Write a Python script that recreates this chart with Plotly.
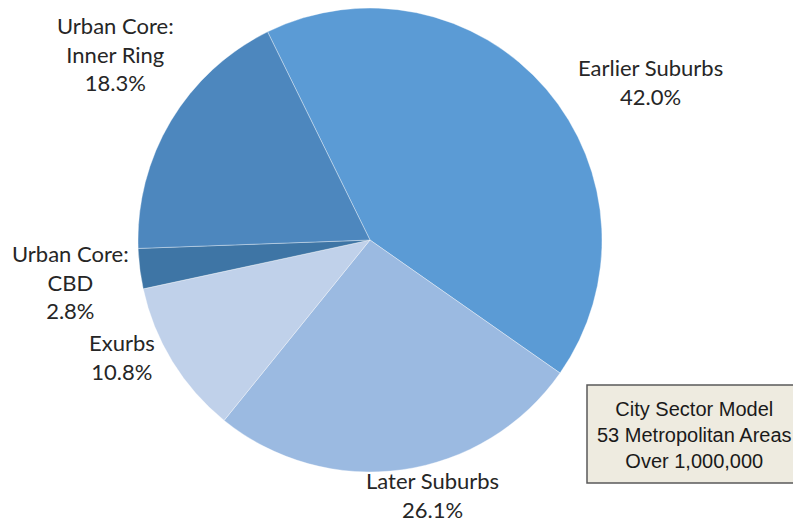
import plotly.graph_objects as go

categories = ["Earlier Suburbs", "Later Suburbs", "Exurbs", "Urban Core: CBD", "Urban Core: Inner Ring"]
shares = [42.0, 26.1, 10.8, 2.8, 18.3]
label_texts = ["Earlier Suburbs<br>42.0%", "Later Suburbs<br>26.1%", "Exurbs<br>10.8%",
               "Urban Core:<br>CBD<br>2.8%", "Urban Core:<br>Inner Ring<br>18.3%"]
colors = ["#5B9BD5", "#9BBAE1", "#C0D1EA", "#3E75A5", "#4D87BE"]

W, H = 793, 524
fig = go.Figure()
fig.add_trace(go.Pie(
    labels=categories, values=shares, sort=False, direction="clockwise",
    rotation=-26.2, textinfo="none", hoverinfo="label+percent",
    marker=dict(colors=colors, line=dict(color="rgba(255,255,255,0.5)", width=0.7)),
    domain=dict(x=[138 / W, 602 / W], y=[52 / H, 516 / H]),
    showlegend=False,
))

label_pos = [(650, 82), (432, 495), (122, 357), (70, 282), (116, 54)]
font_main = dict(family="Lato, 'Open Sans', sans-serif", size=22, color="#262626")
for txt, (x, y) in zip(label_texts, label_pos):
    fig.add_annotation(x=x / W, y=1 - y / H, xref="paper", yref="paper", text=txt,
                       showarrow=False, align="center", xanchor="center", yanchor="middle",
                       borderpad=0, font=font_main)

fig.add_shape(type="rect", xref="paper", yref="paper",
              x0=587 / W, x1=1.02, y0=1 - 483 / H, y1=1 - 385 / H,
              fillcolor="#EEEBE0", line=dict(color="#595959", width=1.5))
fig.add_annotation(x=694 / W, y=1 - 435 / H, xref="paper", yref="paper",
                   text="City Sector Model<br>53 Metropolitan Areas<br>Over 1,000,000",
                   showarrow=False, align="center", xanchor="center", yanchor="middle",
                   font=dict(family="'Liberation Sans', Arial, sans-serif", size=20, color="#1a1a1a"))

fig.update_layout(width=W, height=H, margin=dict(l=0, r=0, t=0, b=0),
                  paper_bgcolor="white", plot_bgcolor="white")
fig.write_html("out.html", config={"displayModeBar": False},
               post_script="document.body.style.margin='0';")
